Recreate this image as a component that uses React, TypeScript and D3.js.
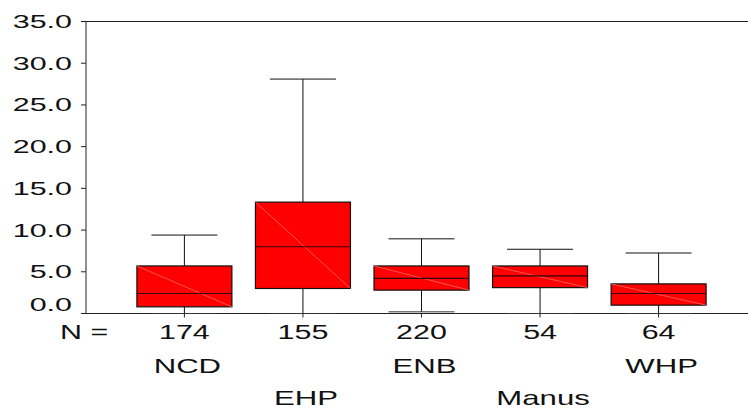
import React from 'react';
import * as d3 from 'd3';

const categories = ['NCD', 'EHP', 'ENB', 'Manus', 'WHP'];
const counts = [174, 155, 220, 54, 64];
const whiskerLow = [0, 0, 0.2, 0, 0];
const q1 = [0.8, 3.0, 2.8, 3.1, 1.0];
const median = [2.4, 8.0, 4.2, 4.5, 2.4];
const q3 = [5.7, 13.35, 5.7, 5.7, 3.55];
const whiskerHigh = [9.4, 28.1, 8.95, 7.7, 7.25];
const yTicks = [0, 5, 10, 15, 20, 25, 30, 35];

const width = 748;
const height = 409;
const font = '"Liberation Sans", Arial, sans-serif';

const App = () => {
  const left = 86;
  const top = 21.5;
  const bottom = 313.5;

  const y = d3.scaleLinear().domain([0, 35]).range([bottom, top]);
  const x = d3.scalePoint<string>().domain(categories).range([left, 757]).padding(0.83);

  const boxW = 95;
  const capW = 66;

  return (
    <svg width={width} height={height} style={{ position: 'absolute', left: 0, top: 0, background: '#fff' }}>
      {/* frame */}
      <line x1={left} x2={width} y1={top} y2={top} stroke="#222" strokeWidth={1} />
      <line x1={left} x2={left} y1={top} y2={bottom} stroke="#222" strokeWidth={1} />
      <line x1={left - 5} x2={width} y1={bottom} y2={bottom} stroke="#222" strokeWidth={1} />

      {/* y ticks */}
      {yTicks.map(t => (
        <g key={t}>
          <line x1={left - 5} x2={left} y1={y(t)} y2={y(t)} stroke="#222" />
          <text
            transform={`translate(72,${y(t) - (t === 0 ? 9.5 : 0) + 6.5}) scale(1.72,1)`}
            textAnchor="end"
            fontFamily={font}
            fontSize={17.7}
            fill="#111"
          >
            {t.toFixed(1)}
          </text>
        </g>
      ))}

      {/* boxes */}
      {categories.map((c, i) => {
        const cx = x(c) as number;
        return (
          <g key={c}>
            <line x1={cx} x2={cx} y1={y(whiskerLow[i])} y2={y(whiskerHigh[i])} stroke="#111" />
            <line x1={cx - capW / 2} x2={cx + capW / 2} y1={y(whiskerHigh[i])} y2={y(whiskerHigh[i])} stroke="#111" />
            <line x1={cx - capW / 2} x2={cx + capW / 2} y1={y(whiskerLow[i])} y2={y(whiskerLow[i])} stroke="#333" />
            <rect
              x={cx - boxW / 2}
              y={y(q3[i])}
              width={boxW}
              height={y(q1[i]) - y(q3[i])}
              fill="#ff0000"
              stroke="#111"
              strokeWidth={1.2}
            />
            <line
              x1={cx - boxW / 2}
              y1={y(q3[i])}
              x2={cx + boxW / 2}
              y2={y(q1[i])}
              stroke="#ff7a7a"
              strokeWidth={0.7}
            />
            <line x1={cx - boxW / 2} x2={cx + boxW / 2} y1={y(median[i])} y2={y(median[i])} stroke="#3a0000" strokeWidth={1.2} />
            <line x1={cx} x2={cx} y1={bottom} y2={bottom + 4} stroke="#222" />
          </g>
        );
      })}

      {/* N row */}
      <text transform={`translate(60,339) scale(1.45,1)`} fontFamily={font} fontSize={21} fill="#111">
        N =
      </text>
      {categories.map((c, i) => (
        <text
          key={'n' + c}
          transform={`translate(${x(c)},339) scale(1.45,1)`}
          textAnchor="middle"
          fontFamily={font}
          fontSize={21}
          fill="#111"
        >
          {counts[i]}
        </text>
      ))}

      {/* category labels, staggered */}
      {categories.map((c, i) => (
        <text
          key={'c' + c}
          transform={`translate(${(x(c) as number) + 3},${i % 2 === 0 ? 372.5 : 405}) scale(1.58,1)`}
          textAnchor="middle"
          fontFamily={font}
          fontSize={19.7}
          fill="#111"
        >
          {c}
        </text>
      ))}
    </svg>
  );
};

export default App;
